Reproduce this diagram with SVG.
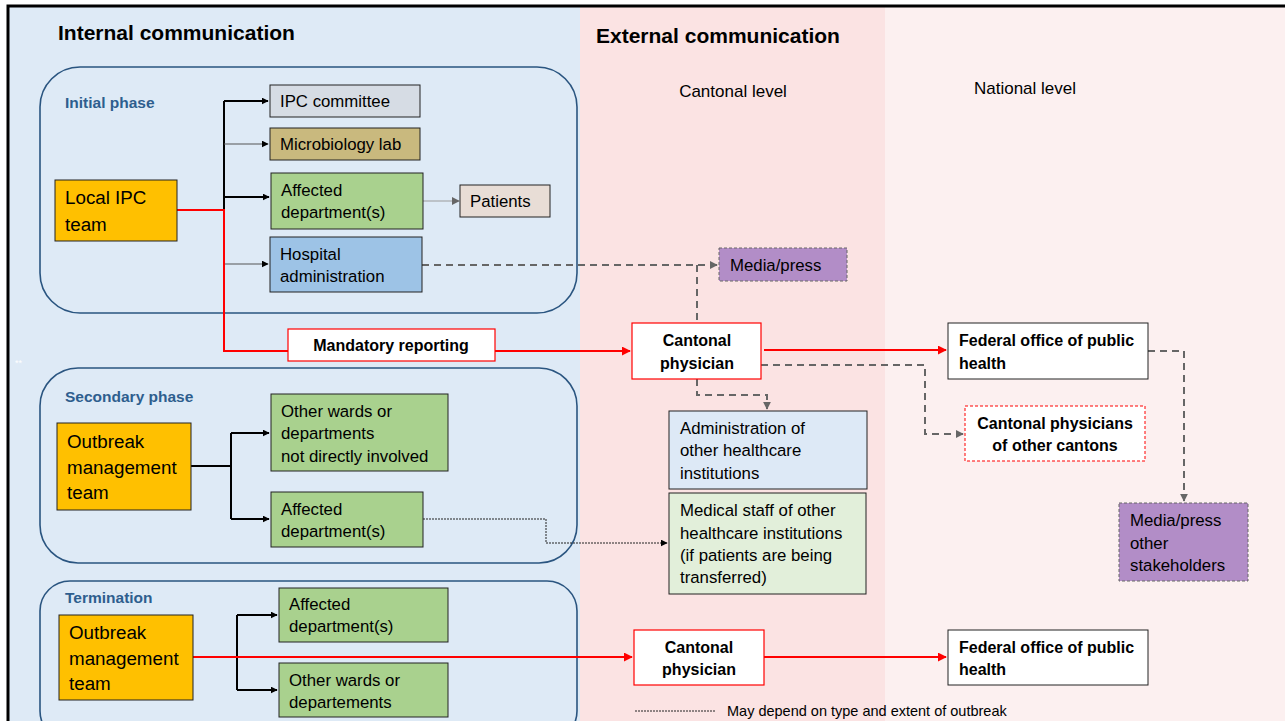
<svg xmlns="http://www.w3.org/2000/svg" width="1285" height="721" viewBox="0 0 1285 721">
<style>
text{font-family:"Liberation Sans",Arial,sans-serif;fill:#000}
.t{font-size:16.8px}
.tb{font-size:16px;font-weight:bold}
.big{font-size:18.8px}
.ph{font-size:15.5px;font-weight:bold;fill:#2e5e8e}
.h{font-size:21px;font-weight:bold}
.lv{font-size:17px}
.phase{fill:none;stroke:#2a5580;stroke-width:1.6}
.box{stroke:#222;stroke-width:1}
.blk{fill:none;stroke:#000;stroke-width:2}
.gry{fill:none;stroke:#555;stroke-width:1}
.red{fill:none;stroke:#f00;stroke-width:2}
.dsh{fill:none;stroke:#666;stroke-width:2;stroke-dasharray:7,5}
.dot{fill:none;stroke:#222;stroke-width:1;stroke-dasharray:2,1}
</style>
<defs>
<marker id="ab" viewBox="0 0 10 10" refX="9" refY="5" markerWidth="7" markerHeight="7" orient="auto" markerUnits="userSpaceOnUse"><path d="M0,0L10,5L0,10z" fill="#000"/></marker>
<marker id="ag" viewBox="0 0 10 10" refX="9" refY="5" markerWidth="8" markerHeight="8" orient="auto" markerUnits="userSpaceOnUse"><path d="M0,0L10,5L0,10z" fill="#666"/></marker>
<marker id="ar" viewBox="0 0 10 10" refX="9" refY="5" markerWidth="9" markerHeight="9" orient="auto" markerUnits="userSpaceOnUse"><path d="M0,0L10,5L0,10z" fill="#f00"/></marker>
</defs>
<rect x="0" y="0" width="1285" height="721" fill="#fff"/>
<rect x="8" y="6" width="572" height="715" fill="#deeaf6"/>
<rect x="580" y="6" width="305" height="715" fill="#fbe3e3"/>
<rect x="885" y="6" width="400" height="715" fill="#fcf0f0"/>
<path d="M8,721V6H1285" fill="none" stroke="#000" stroke-width="3"/>
<text x="58" y="40" class="h">Internal communication</text>
<text x="596" y="43" class="h">External communication</text>
<text x="733" y="97" class="lv" text-anchor="middle">Cantonal level</text>
<text x="1025" y="94" class="lv" text-anchor="middle">National level</text>
<text x="15" y="366" font-size="9" style="fill:#fff">**</text>

<g id="phase-initial"><rect x="40" y="67" width="537" height="246" rx="40" class="phase"/><text x="65" y="108" class="ph">Initial phase</text></g>
<g id="phase-secondary"><rect x="40" y="368" width="537" height="195" rx="38" class="phase"/><text x="65" y="402" class="ph">Secondary phase</text></g>
<g id="phase-termination"><rect x="40" y="581" width="537" height="160" rx="30" class="phase"/><text x="65" y="603" class="ph">Termination</text></g>

<g id="connectors">
<path d="M224,101V264" class="blk"/>
<path d="M224,101H268" class="blk" marker-end="url(#ab)"/>
<path d="M224,144H268" class="gry" marker-end="url(#ab)"/>
<path d="M224,197H269" class="blk" marker-end="url(#ab)"/>
<path d="M224,264H268" class="gry" marker-end="url(#ab)"/>
<path d="M423,201H459" fill="none" stroke="#999" stroke-width="1.2" marker-end="url(#ag)"/>
<path d="M177,210H224V351H288" class="red"/>
<path d="M495,351H630" class="red" marker-end="url(#ar)"/>
<path d="M422,265H717" class="dsh" marker-end="url(#ag)"/>
<path d="M697,265V323" class="dsh"/>
<path d="M764,350H946" class="red" marker-end="url(#ar)"/>
<path d="M697,379V395H767V409" class="dsh" marker-end="url(#ag)"/>
<path d="M761,365H925V434H963" class="dsh" marker-end="url(#ag)"/>
<path d="M1148,351H1184V501" class="dsh" marker-end="url(#ag)"/>
<path d="M191,466H231" class="blk"/>
<path d="M231,433V519" class="blk"/>
<path d="M231,433H269" class="blk" marker-end="url(#ab)"/>
<path d="M231,519H269" class="blk" marker-end="url(#ab)"/>
<path d="M423,519H546V543H667" class="dot" marker-end="url(#ab)"/>
<path d="M237,615V690" class="blk"/>
<path d="M237,615H277" class="blk" marker-end="url(#ab)"/>
<path d="M237,690H277" class="blk" marker-end="url(#ab)"/>
<path d="M193,657H632" class="red" marker-end="url(#ar)"/>
<path d="M764,657H946" class="red" marker-end="url(#ar)"/>
</g>

<g id="local-ipc"><rect x="55" y="180" width="122" height="61" fill="#ffc000" class="box"/><text x="65" y="204" class="big">Local IPC</text><text x="65" y="231" class="big">team</text></g>
<g id="ipc-committee"><rect x="270" y="85" width="150" height="32" fill="#d6dce4" class="box"/><text x="280" y="107" class="t">IPC committee</text></g>
<g id="micro-lab"><rect x="270" y="128" width="150" height="32" fill="#c9b97e" class="box"/><text x="280" y="150" class="t">Microbiology lab</text></g>
<g id="affected-1"><rect x="271" y="173" width="152" height="56" fill="#a9d18e" class="box"/><text x="281" y="196" class="t">Affected</text><text x="281" y="218" class="t">department(s)</text></g>
<g id="patients"><rect x="460" y="185" width="90" height="32" fill="#e8ddd6" class="box"/><text x="470" y="207" class="t">Patients</text></g>
<g id="hospital-admin"><rect x="270" y="237" width="152" height="55" fill="#9dc3e6" class="box"/><text x="280" y="260" class="t">Hospital</text><text x="280" y="282" class="t">administration</text></g>
<g id="mandatory"><rect x="288" y="329" width="207" height="32" fill="#fff" stroke="#f00" stroke-width="1.2"/><text x="391" y="351" class="tb" text-anchor="middle">Mandatory reporting</text></g>
<g id="media-1"><rect x="719" y="248" width="128" height="33" fill="#b28dc7" stroke="#666" stroke-width="1" stroke-dasharray="3,2"/><text x="730" y="271" class="t">Media/press</text></g>
<g id="cantonal-1"><rect x="632" y="323" width="129" height="56" fill="#fff" stroke="#f00" stroke-width="1.2"/><text x="697" y="346" class="tb" text-anchor="middle">Cantonal</text><text x="697" y="369" class="tb" text-anchor="middle">physician</text></g>
<g id="federal-1"><rect x="948" y="323" width="200" height="56" fill="#fff" class="box"/><text x="959" y="346" class="tb">Federal office of public</text><text x="959" y="369" class="tb">health</text></g>
<g id="other-cantons"><rect x="965" y="406" width="180" height="55" fill="#fff" stroke="#f00" stroke-width="1" stroke-dasharray="3,2"/><text x="1055" y="429" class="tb" text-anchor="middle">Cantonal physicians</text><text x="1055" y="451" class="tb" text-anchor="middle">of other cantons</text></g>
<g id="admin-other"><rect x="669" y="411" width="198" height="78" fill="#dde9f6" class="box"/><text x="680" y="434" class="t">Administration of</text><text x="680" y="456" class="t">other healthcare</text><text x="680" y="479" class="t">institutions</text></g>
<g id="medical-staff"><rect x="669" y="493" width="197" height="101" fill="#e2efda" class="box"/><text x="680" y="516" class="t">Medical staff of other</text><text x="680" y="539" class="t">healthcare institutions</text><text x="680" y="561" class="t">(if patients are being</text><text x="680" y="583" class="t">transferred)</text></g>
<g id="media-2"><rect x="1119" y="503" width="129" height="78" fill="#b28dc7" stroke="#666" stroke-width="1" stroke-dasharray="3,2"/><text x="1130" y="526" class="t">Media/press</text><text x="1130" y="549" class="t">other</text><text x="1130" y="571" class="t">stakeholders</text></g>
<g id="omt-2"><rect x="57" y="423" width="134" height="87" fill="#ffc000" class="box"/><text x="67" y="448" class="big">Outbreak</text><text x="67" y="474" class="big">management</text><text x="67" y="499" class="big">team</text></g>
<g id="other-wards-2"><rect x="271" y="394" width="177" height="77" fill="#a9d18e" class="box"/><text x="281" y="417" class="t">Other wards or</text><text x="281" y="439" class="t">departments</text><text x="281" y="462" class="t">not directly involved</text></g>
<g id="affected-2"><rect x="271" y="492" width="152" height="55" fill="#a9d18e" class="box"/><text x="281" y="515" class="t">Affected</text><text x="281" y="537" class="t">department(s)</text></g>
<g id="omt-3"><rect x="59" y="615" width="134" height="85" fill="#ffc000" class="box"/><text x="69" y="639" class="big">Outbreak</text><text x="69" y="665" class="big">management</text><text x="69" y="690" class="big">team</text></g>
<g id="affected-3"><rect x="279" y="588" width="169" height="54" fill="#a9d18e" class="box"/><text x="289" y="610" class="t">Affected</text><text x="289" y="632" class="t">department(s)</text></g>
<g id="other-wards-3"><rect x="279" y="663" width="169" height="54" fill="#a9d18e" class="box"/><text x="289" y="686" class="t">Other wards or</text><text x="289" y="708" class="t">departements</text></g>
<g id="cantonal-2"><rect x="634" y="630" width="130" height="55" fill="#fff" stroke="#f00" stroke-width="1.2"/><text x="699" y="653" class="tb" text-anchor="middle">Cantonal</text><text x="699" y="675" class="tb" text-anchor="middle">physician</text></g>
<g id="federal-2"><rect x="948" y="630" width="200" height="55" fill="#fff" class="box"/><text x="959" y="653" class="tb">Federal office of public</text><text x="959" y="675" class="tb">health</text></g>
<g id="legend"><path d="M635,711H715" class="dot"/><text x="727" y="716" font-size="14.5">May depend on type and extent of outbreak</text></g>
</svg>
